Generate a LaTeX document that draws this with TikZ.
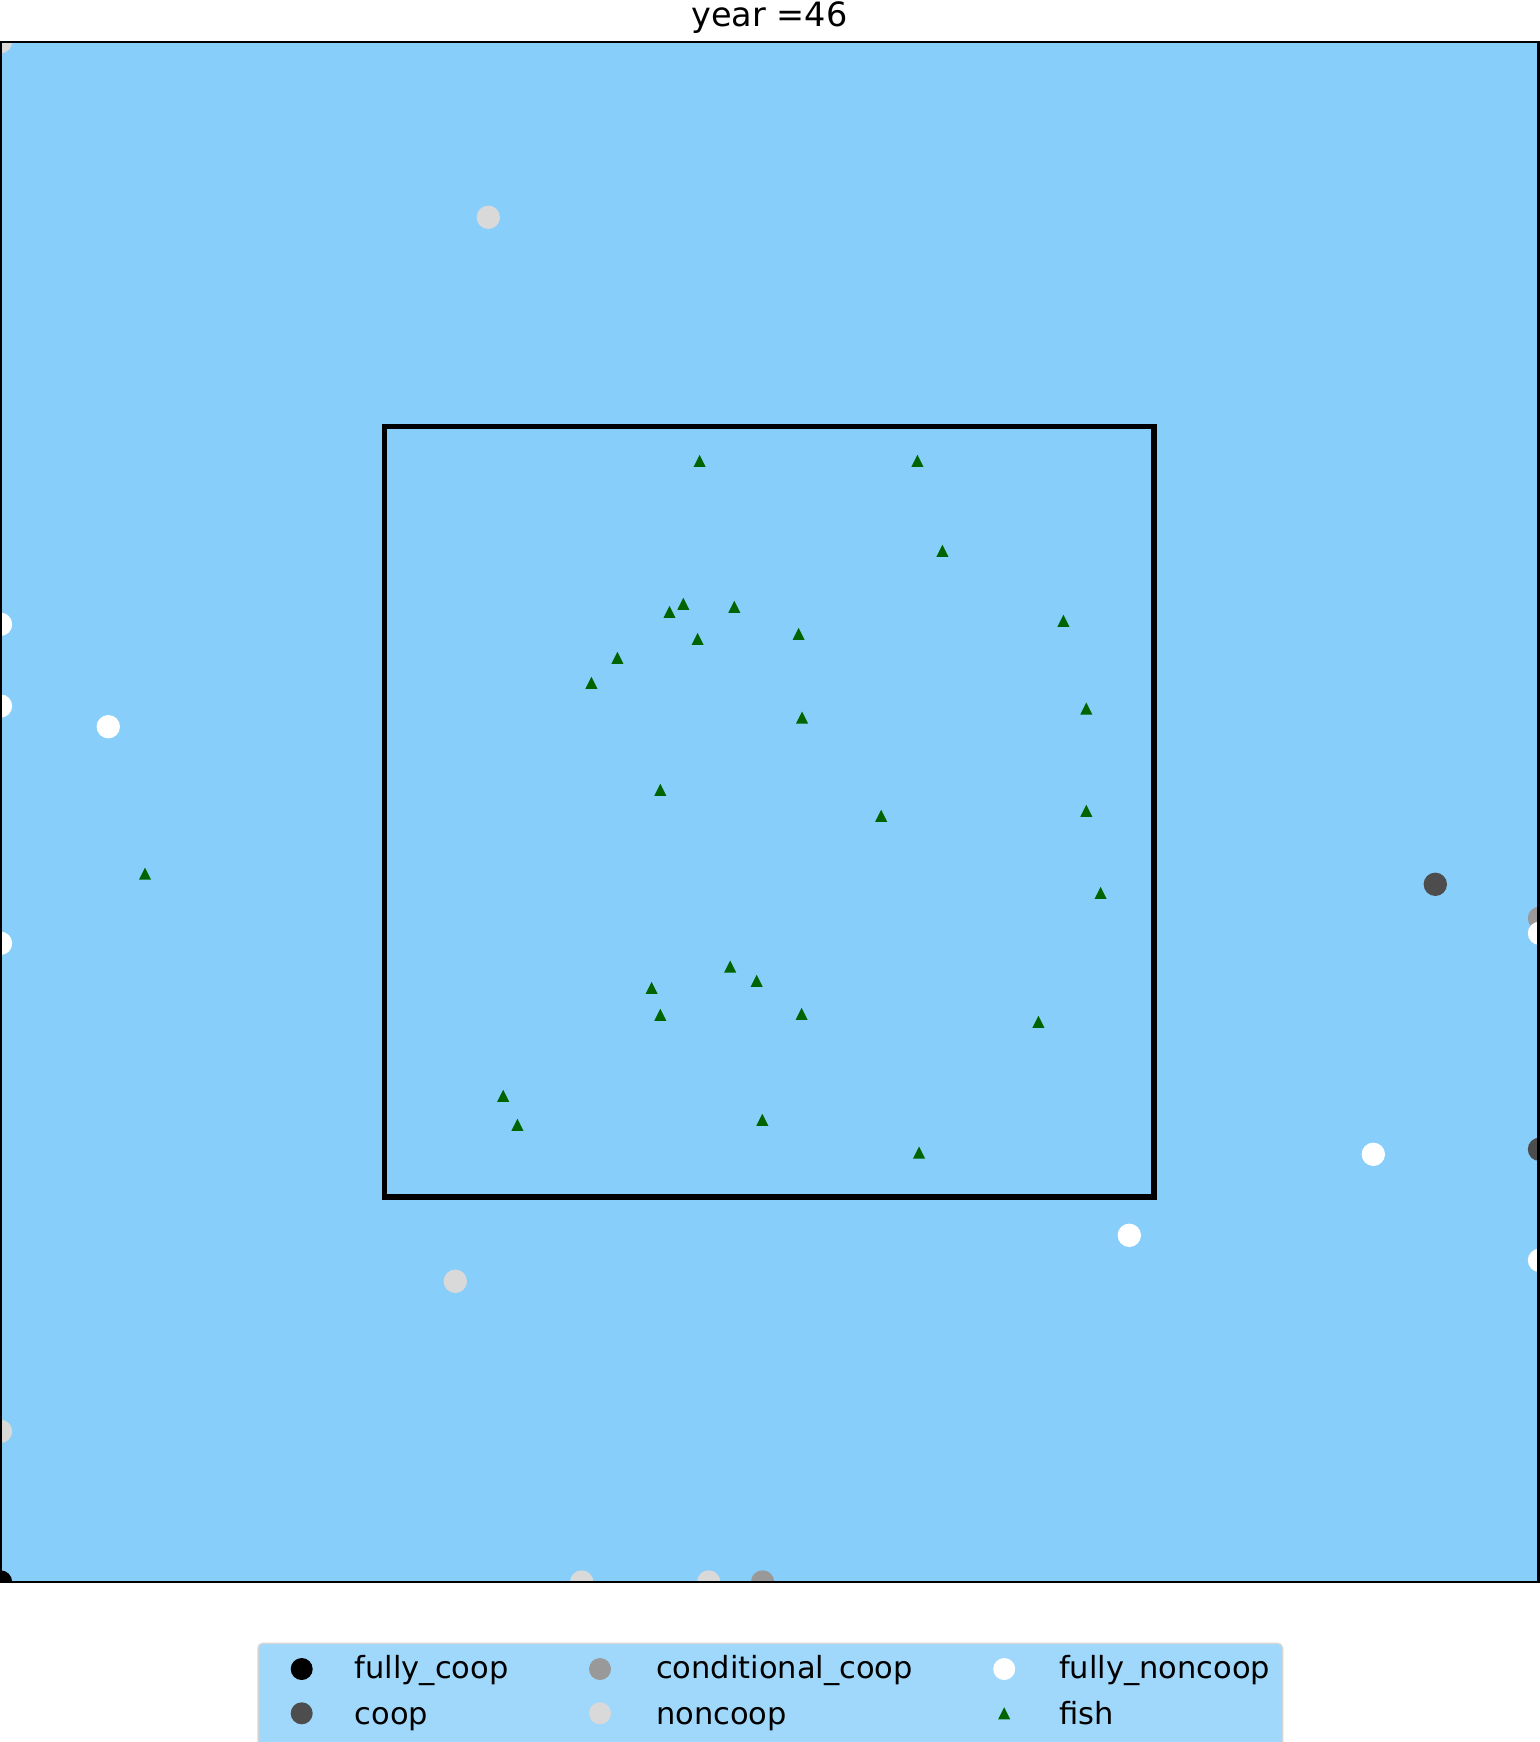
\documentclass[tikz,border=0pt]{standalone}
\usepackage{fontspec}
\setmainfont{DejaVu Sans}
\definecolor{axbg}{RGB}{135,206,250}
\definecolor{legbg}{RGB}{159,216,251}
\definecolor{legedge}{RGB}{214,214,214}
\definecolor{fishc}{RGB}{0,100,0}
\definecolor{fcoopc}{RGB}{0,0,0}
\definecolor{coopc}{RGB}{77,77,77}
\definecolor{ccoopc}{RGB}{153,153,153}
\definecolor{ncoopc}{RGB}{217,217,217}
\definecolor{fncoopc}{RGB}{255,255,255}
\tikzset{
  fishpic/.pic={\fill[fishc] (-6,6) -- (0,-6) -- (6,6) -- cycle;},
  legtext/.style={anchor=base west, inner sep=0pt, font=\fontsize{30.5}{34}\selectfont},
}
\newcommand\dotat[3]{\fill[#1] (#2,#3) circle[radius=11.7pt];}
\newcommand\legdot[3]{\fill[#1] (#2,#3) circle[radius=11pt];}
\begin{document}
\begin{tikzpicture}[x=1pt,y=-1pt]
\useasboundingbox (0,0) rectangle (1539,1742);
\fill[white] (0,0) rectangle (1539,1742);
% title
\node[anchor=base, inner sep=0pt, font=\fontsize{33.5}{37}\selectfont] (title) at (769.5,26.7) {year =46};
% axes
\fill[axbg] (0.5,41.7) rectangle (1538.5,1582);
\begin{scope}
\clip (0.5,41.7) rectangle (1538.5,1582);
% fully_coop
\dotat{fcoopc}{0.5}{1582}
% coop
\dotat{coopc}{1435.3}{884.3}
\dotat{coopc}{1539.5}{1149.3}
% conditional_coop
\dotat{ccoopc}{1539.5}{918.3}
\dotat{ccoopc}{762.6}{1582}
% noncoop
\dotat{ncoopc}{0.5}{41.7}
\dotat{ncoopc}{488.3}{217.3}
\dotat{ncoopc}{455.3}{1281.3}
\dotat{ncoopc}{0.5}{1431.3}
\dotat{ncoopc}{581.7}{1582}
\dotat{ncoopc}{708.7}{1582}
% fully_noncoop
\dotat{fncoopc}{0.5}{624.3}
\dotat{fncoopc}{0.5}{706}
\dotat{fncoopc}{108.3}{726.7}
\dotat{fncoopc}{0.5}{943.3}
\dotat{fncoopc}{1539.5}{933.3}
\dotat{fncoopc}{1373.3}{1154.3}
\dotat{fncoopc}{1129.3}{1235.3}
\dotat{fncoopc}{1539.5}{1260.3}
% fish
\foreach \fx/\fy in {699.6/460.8, 917.4/460.8, 942.4/550.8, 683.3/603.8, 669.5/611.8,
  734.3/606.8, 1063.4/620.8, 697.6/638.8, 798.6/633.8, 617.4/657.8, 591.4/682.8,
  1086.3/708.5, 802.1/717.5, 660.3/789.8, 1086.3/810.8, 881.2/815.8, 1100.6/892.8,
  730.2/966.5, 756.7/980.8, 651.6/987.8, 660.3/1014.8, 801.6/1013.8, 1038.4/1021.8,
  503.2/1095.8, 517.4/1124.8, 762.3/1119.8, 919/1152.5, 145/873.7}
  {\pic at (\fx,\fy) {fishpic};}
\end{scope}
% square
\draw[line width=5.2pt] (384.8,426.8) rectangle (1154,1197);
% spines
\draw[line width=2.2pt] (0.5,41.7) rectangle (1538.5,1582);
% legend
\draw[fill=legbg, draw=legedge, line width=1.5pt, rounded corners=5pt] (258,1643.3) rectangle (1282.5,1760);
\legdot{fcoopc}{301.7}{1669}
\legdot{coopc}{301.7}{1713.3}
\legdot{ccoopc}{600}{1669}
\legdot{ncoopc}{600}{1713.3}
\legdot{fncoopc}{1004.2}{1669}
\pic at (1004.2,1713.3) {fishpic};
\node[legtext] (l1) at (354.5,1678.3) {fully\_coop};
\node[legtext] (l2) at (354.5,1724.3) {coop};
\node[legtext] (l3) at (655.8,1678.3) {conditional\_coop};
\node[legtext] (l4) at (655.8,1724.3) {noncoop};
\node[legtext] (l5) at (1058.8,1678.3) {fully\_noncoop};
\node[legtext] (l6) at (1058.8,1724.3) {fish};
\end{tikzpicture}
\end{document}
